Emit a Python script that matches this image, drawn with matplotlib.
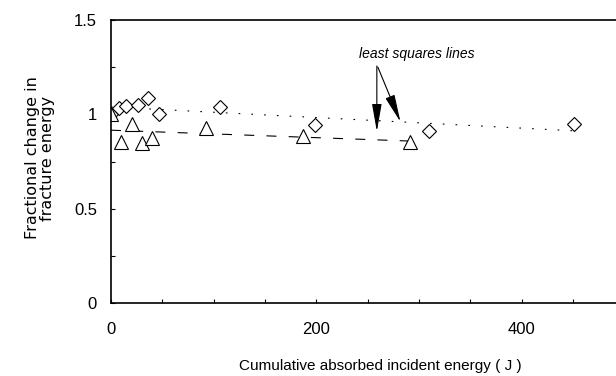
import numpy as np
import matplotlib.pyplot as plt
from matplotlib.ticker import MultipleLocator, FuncFormatter

plt.rcParams['font.family'] = ['Liberation Sans', 'DejaVu Sans']

# cumulative absorbed energy (J) and fractional change in fracture energy
diamond_x = [0, 8, 15, 26, 36, 47, 106, 199, 310, 451]
diamond_y = [1.0, 1.032, 1.044, 1.049, 1.085, 1.002, 1.040, 0.943, 0.913, 0.947]

triangle_x = [0, 20, 9.5, 30, 40, 93, 187, 291]
triangle_y = [1.0, 0.949, 0.855, 0.849, 0.873, 0.929, 0.885, 0.855]

x_ticks = [0, 200, 400]
y_ticks = [0, 0.5, 1, 1.5]
note = "least squares lines"

fig = plt.figure(figsize=(6.16, 3.76), dpi=100)
ax = fig.add_axes([111 / 616, 1 - 303 / 376, 1 - 111 / 616, 283 / 376])

# least squares fits
pd_ = np.polyfit(diamond_x, diamond_y, 1)
pt_ = np.polyfit(triangle_x, triangle_y, 1)
xd = np.array([0, max(diamond_x)])
xt = np.array([0, max(triangle_x)])
ax.plot(xd, np.polyval(pd_, xd), color='black', lw=0.8, ls=(0, (1.5, 10)))
ax.plot(xt, np.polyval(pt_, xt), color='black', lw=0.8, ls=(0, (9, 11)))

ax.plot(diamond_x, diamond_y, 'D', ms=7.5, mfc='white', mec='black', mew=0.8)
ax.plot(triangle_x, triangle_y, '^', ms=10.5, mfc='white', mec='black', mew=0.8)

# arrows from the note to each fitted line
head = "-|>,head_length=1.7,head_width=0.3"
ax.annotate("", xy=(259, np.polyval(pt_, 259) + 0.045), xytext=(259, 1.256),
            arrowprops=dict(arrowstyle=head, color='black', lw=0.8,
                            shrinkA=0, shrinkB=0))
ax.annotate("", xy=(282, np.polyval(pd_, 282)), xytext=(260, 1.25),
            arrowprops=dict(arrowstyle=head, color='black', lw=0.8,
                            shrinkA=0, shrinkB=0))
ax.text(298, 1.32, note, fontsize=10, style='italic', ha='center', va='center')

ax.set_xlim(0, 492)
ax.set_ylim(0, 1.5)
ax.spines['right'].set_visible(False)
for s in ['left', 'bottom', 'top']:
    ax.spines[s].set_linewidth(1.2)

ax.set_xticks(x_ticks)
ax.xaxis.set_minor_locator(MultipleLocator(50))
ax.set_yticks(y_ticks)
ax.yaxis.set_minor_locator(MultipleLocator(0.25))
ax.yaxis.set_major_formatter(FuncFormatter(lambda v, p: f"{v:g}"))
ax.tick_params(axis='x', which='both', direction='in', length=3, width=0.8,
               labelsize=12, pad=14)
ax.tick_params(axis='y', which='both', direction='in', length=3, width=0.8,
               labelsize=12, pad=10)

fig.text(380 / 616, 1 - 366 / 376, "Cumulative absorbed incident energy ( J )",
         fontsize=11, ha='center', va='center')
fig.text(40 / 616, 1 - 158 / 376, "Fractional change in\nfracture energy",
         fontsize=11.5, rotation=90, ha='center', va='center', linespacing=1.0,
         family=['DejaVu Sans'])

fig.savefig("out.png", dpi=100)
